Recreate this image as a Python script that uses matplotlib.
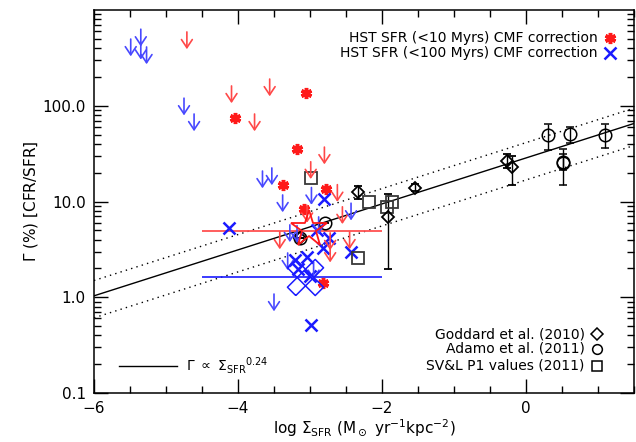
import numpy as np
import matplotlib
matplotlib.use("Agg")
import matplotlib.pyplot as plt
from matplotlib.ticker import FixedLocator, MultipleLocator, FixedFormatter

plt.rcParams['font.family'] = ['DejaVu Sans']
plt.rcParams['mathtext.fontset'] = 'dejavusans'

# HST SFR (<10 Myr) CMF correction: detections (asterisks) and upper limits
red_star_x = [-3.05, -4.04, -3.18, -3.37, -2.78, -3.08, -2.82]
red_star_y = [137, 74, 35, 14.9, 13.4, 8.3, 1.42]
red_lim_x = [-4.71, -4.09, -3.56, -3.77, -2.80, -2.99, -2.62, -2.55, -3.04, -2.72, -2.72, -3.42, -2.45]
red_lim_y = [590, 161, 190, 82, 37, 26, 15, 8.8, 9.1, 4.7, 3.5, 4.8, 4.8]

# HST SFR (<100 Myr) CMF correction
blue_x_x = [-4.13, -2.81, -2.90, -2.74, -2.82, -2.43, -3.21, -3.04, -3.16, -3.00, -2.99]
blue_x_y = [5.25, 10.5, 5.1, 4.2, 3.3, 3.0, 2.45, 2.65, 1.96, 1.66, 0.51]
blue_lim_x = [-5.49, -5.35, -5.35, -5.27, -4.75, -4.61, -3.66, -3.53, -3.38, -2.98,
              -2.43, -3.28, -3.18, -2.88, -3.31, -2.95, -3.50]
blue_lim_y = [497, 630, 460, 411, 120, 82, 20.8, 22.4, 11.7, 14, 9.6, 5.7, 5.6, 6.9, 2.9, 2.3, 1.08]

# mean values and their ranges
red_mean = (-3.02, 5.2)
blue_mean = (-3.07, 1.64)
mean_range = (-4.5, -2.0)
red_level = 4.96
blue_level = 1.64

# literature
goddard_x = [-2.33, -1.54, -1.92, -0.26, -0.20, -3.14]
goddard_y = [12.5, 13.9, 6.9, 26.7, 23.0, 4.2]
goddard_hi = [14.4, 15.2, 11.9, 31.6, 30.2, 4.2]
goddard_lo = [10.5, 13.0, 1.97, 22.4, 14.8, 4.2]

adamo_x = [0.30, 0.61, 1.10, 0.52, 0.52, -2.79, -3.14]
adamo_y = [49.5, 50.3, 50.0, 26.0, 25.0, 5.9, 4.2]
adamo_hi = [64.6, 60.4, 64.4, 35.0, 31.0, 5.9, 4.2]
adamo_lo = [34.7, 40.6, 36.0, 21.3, 14.8, 5.9, 4.2]

svl_x = [-2.99, -2.18, -1.93, -1.86, -2.33]
svl_y = [17.5, 9.8, 8.8, 9.8, 2.6]

# Gamma ~ Sigma_SFR^0.24 relation
fit_slope = 0.24
fit_norm = 28.5   # Gamma at log Sigma = 0
scatter_up = 0.16  # dex
scatter_dn = 0.23  # dex

fig = plt.figure(figsize=(6.36, 4.42), dpi=100)
ax = fig.add_axes([94/636, 49/442, 540/636, 383/442])
ax.set_yscale('log')
ax.set_xlim(-6, 1.5)
ax.set_ylim(0.1, 1000)

xx = np.linspace(-6, 1.5, 100)
yy = fit_norm * 10**(fit_slope * xx)
ax.plot(xx, yy, color='k', lw=1)
ax.plot(xx, yy * 10**scatter_up, color='k', lw=1, ls=(0, (1, 3)))
ax.plot(xx, yy / 10**scatter_dn, color='k', lw=1, ls=(0, (1, 3)))

red = '#ff1a1a'
blue = '#1a1aff'

def upper_limit(x, y, c):
    ax.annotate('', xy=(x, y / 10**0.18), xytext=(x, y),
                arrowprops=dict(arrowstyle='->,head_length=0.45,head_width=0.3',
                                color=c, lw=1.2, mutation_scale=13, shrinkA=0, shrinkB=0))

for x, y in zip(red_lim_x, red_lim_y):
    upper_limit(x, y, '#ff4848')
for x, y in zip(blue_lim_x, blue_lim_y):
    upper_limit(x, y, '#4848ff')

# mean values
ax.hlines(red_level, *mean_range, color='#ff5050', lw=1.3)
ax.hlines(blue_level, *mean_range, color=blue, lw=1.2)
ax.plot(*red_mean, marker='*', ms=28, mfc='none', mec=red, mew=1.3, zorder=5)
bar = np.array([(-1, -0.3), (1, -0.3), (1, 0.3), (-1, 0.3), (-1, -0.3)])
for ang in (45, -45):
    a = np.radians(ang)
    rot = bar @ np.array([[np.cos(a), np.sin(a)], [-np.sin(a), np.cos(a)]])
    ax.plot(*blue_mean, marker=rot, ms=26, mfc='none', mec=blue, mew=1.1, zorder=5)

ax.plot(red_star_x, red_star_y, ls='none', marker=(6, 2, 0), ms=8, mec=red, mew=2.5)
ax.plot(blue_x_x, blue_x_y, ls='none', marker='x', ms=8, mec=blue, mew=1.8)

# literature points
gy = np.array(goddard_y)
ax.errorbar(goddard_x, goddard_y, yerr=[gy - goddard_lo, np.array(goddard_hi) - gy],
            fmt='D', ms=6.5, mfc='none', mec='k', mew=1.3, ecolor='k', elinewidth=1, capsize=3)
ay = np.array(adamo_y)
ax.errorbar(adamo_x, adamo_y, yerr=[ay - adamo_lo, np.array(adamo_hi) - ay],
            fmt='o', ms=9, mfc='none', mec='k', mew=1.1, ecolor='k', elinewidth=1, capsize=3)
ax.plot(svl_x, svl_y, ls='none', marker='s', ms=8.5, mfc='none', mec='#383838', mew=1.3)

# ticks
ax.xaxis.set_major_locator(FixedLocator([-6, -4, -2, 0]))
ax.xaxis.set_major_formatter(FixedFormatter(['\u22126', '\u22124', '\u22122', '0']))
ax.xaxis.set_minor_locator(MultipleLocator(0.5))
ax.set_yticks([0.1, 1, 10, 100])
ax.set_yticklabels(['0.1', '1.0', '10.0', '100.0'])
ax.tick_params(which='both', direction='in', top=True, right=True, labelsize=11, width=1)
ax.tick_params(which='major', length=10, pad=6)
ax.tick_params(which='minor', length=5)
for s in ax.spines.values():
    s.set_linewidth(1.1)

ax.set_xlabel(r'log $\Sigma_{\rm SFR}$ (M$_\odot$ yr$^{-1}$kpc$^{-2}$)', fontsize=11, labelpad=1)
ax.set_ylabel(r'$\Gamma$ (%) [CFR/SFR]', fontsize=11, labelpad=2)

# keys
tA = ax.transAxes
ax.text(0.933, 0.928, 'HST SFR (<10 Myrs) CMF correction', transform=tA, ha='right', va='center', fontsize=10)
ax.text(0.933, 0.889, 'HST SFR (<100 Myrs) CMF correction', transform=tA, ha='right', va='center', fontsize=10)
ax.plot(0.956, 0.928, transform=tA, marker=(6, 2, 0), ms=8, mec=red, mew=2.5, clip_on=False)
ax.plot(0.956, 0.889, transform=tA, marker='x', ms=8, mec=blue, mew=1.8, clip_on=False)

ax.text(0.909, 0.154, 'Goddard et al. (2010)', transform=tA, ha='right', va='center', fontsize=10)
ax.text(0.909, 0.115, 'Adamo et al. (2011)', transform=tA, ha='right', va='center', fontsize=10)
ax.text(0.909, 0.0705, 'SV&L P1 values (2011)', transform=tA, ha='right', va='center', fontsize=10)
ax.plot(0.931, 0.154, transform=tA, marker='D', ms=6, mfc='none', mec='k', mew=1.1, clip_on=False)
ax.plot(0.931, 0.115, transform=tA, marker='o', ms=7, mfc='none', mec='k', mew=1.1, clip_on=False)
ax.plot(0.931, 0.0705, transform=tA, marker='s', ms=7, mfc='none', mec='k', mew=1.1, clip_on=False)

ax.plot([0.046, 0.154], [0.0705, 0.0705], transform=tA, color='k', lw=1)
ax.text(0.170, 0.0705, r'$\Gamma$ $\propto$ $\Sigma_{\rm SFR}$$^{0.24}$', transform=tA,
        ha='left', va='center', fontsize=10)

fig.savefig('out.png', dpi=100)
